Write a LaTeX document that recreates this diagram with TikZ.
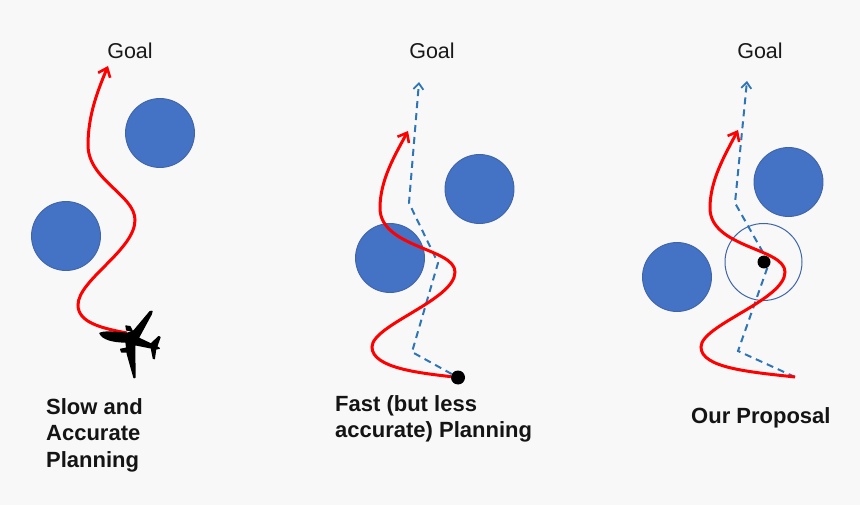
\documentclass[tikz,border=0pt]{standalone}
\usepackage{fontspec}
\setmainfont{Liberation Sans}
\usetikzlibrary{arrows.meta}
\definecolor{bgc}{HTML}{F8F8F8}
\definecolor{obst}{HTML}{4472C4}
\definecolor{obstedge}{HTML}{3F65A8}
\definecolor{dashb}{HTML}{2E75B6}
\tikzset{
  x=1pt,y=-1pt,
  obstacle/.style={circle,draw=obstedge,line width=0.9pt,fill=obst,minimum size=69pt,inner sep=0pt},
  redpath/.style={draw=red,line width=3pt,-{Straight Barb[length=8pt,width=13pt,line width=2.6pt]}},
  plannedpath/.style={draw=dashb,line width=2pt,dash pattern=on 7pt off 5pt,-{Straight Barb[length=6pt,width=10pt,line width=1.8pt]}},
  goal/.style={font=\fontsize{21.5}{24}\selectfont,inner sep=0pt,text=black!90},
  caption/.style={font=\bfseries\fontsize{22}{26.5}\selectfont,align=left,anchor=north west,inner sep=0pt,text=black!92},
  blackdot/.style={circle,fill=black,inner sep=0pt},
  planeshape/.style={fill=black,draw=black,line width=1.3pt,line join=round},
}
\begin{document}
\begin{tikzpicture}
\useasboundingbox (0,0) rectangle (860,505);
\fill[bgc] (0,0) rectangle (860,505);

% Left panel
\node[goal] (g1) at (130,51) {Goal};
\node[obstacle] (a1) at (160,133) {};
\node[obstacle] (a2) at (66,236) {};
\coordinate (s1) at (127,333);
\coordinate (e1) at (108,66);
\draw[redpath] (s1) .. controls (100,328) and (78,322) .. (78,305)
  .. controls (78,280) and (135,250) .. (135,220)
  .. controls (135,195) and (88,180) .. (88,145)
  .. controls (88,115) and (98,90) .. (e1);
\begin{scope}[shift={(70,280)},x=0.3333pt,y=-0.3333pt]
\path[planeshape] (90,160) .. controls (100,154) and (130,156) .. (172,160)
  -- (192,152) -- (240,95) -- (246,94) -- (244,102) -- (205,174)
  -- (243,192) -- (266,170) -- (270,172) -- (260,200) -- (268,205) -- (257,207)
  -- (253,236) -- (250,235) -- (244,204)
  -- (194,194) -- (195,292) -- (192,293) -- (172,222)
  -- (168,186)
  .. controls (125,186) and (97,176) .. (90,160) -- cycle;
\path[planeshape] (168,138) -- (180,140) -- (186,152) -- (170,150) -- cycle;
\path[planeshape] (152,208) -- (172,204) -- (174,216) -- (155,216) -- cycle;
\end{scope}
\node[caption] (t1) at (46,398) {Slow and\\Accurate\\Planning};

% Middle panel
\node[goal] (g2) at (432,51) {Goal};
\node[obstacle] (b1) at (479.5,189) {};
\node[obstacle] (b2) at (390,258) {};
\node[blackdot,minimum width=14pt,minimum height=12pt] (d2) at (458,377.5) {};
\coordinate (pb1) at (412,352);
\coordinate (pb2) at (438,263);
\coordinate (pb3) at (409,203);
\coordinate (eb) at (419,82);
\draw[plannedpath] (d2) -- (pb1) -- (pb2) -- (pb3) -- (eb);
\coordinate (eb2) at (408,131);
\draw[redpath] (d2) .. controls (420,373) and (372,368) .. (372,347)
  .. controls (372,325) and (455,300) .. (455,272)
  .. controls (455,248) and (380,248) .. (380,208)
  .. controls (380,180) and (395,155) .. (eb2);
\node[caption] (t2) at (335,395) {Fast (but less\\accurate) Planning};

% Right panel
\node[goal] (g3) at (760,51) {Goal};
\node[obstacle] (c1) at (788.5,182) {};
\node[obstacle] (c2) at (677,277) {};
\node[circle,draw=obstedge,line width=1pt,minimum size=77pt,inner sep=0pt] (r) at (763.5,262) {};
\coordinate (s3) at (795,377);
\coordinate (pc1) at (738,351);
\coordinate (pc2) at (769,263);
\coordinate (pc3) at (735,203);
\coordinate (ec) at (747,81);
\draw[plannedpath] (s3) -- (pc1) -- (pc2) -- (pc3) -- (ec);
\coordinate (ec2) at (738,130);
\draw[redpath] (s3) .. controls (750,372) and (701,368) .. (701,347)
  .. controls (701,325) and (785,300) .. (785,272)
  .. controls (785,248) and (710,248) .. (710,208)
  .. controls (710,180) and (725,155) .. (ec2);
\node[blackdot,minimum size=13pt] (d3) at (764,262) {};
\node[caption] (t3) at (691,407) {Our Proposal};
\end{tikzpicture}
\end{document}
